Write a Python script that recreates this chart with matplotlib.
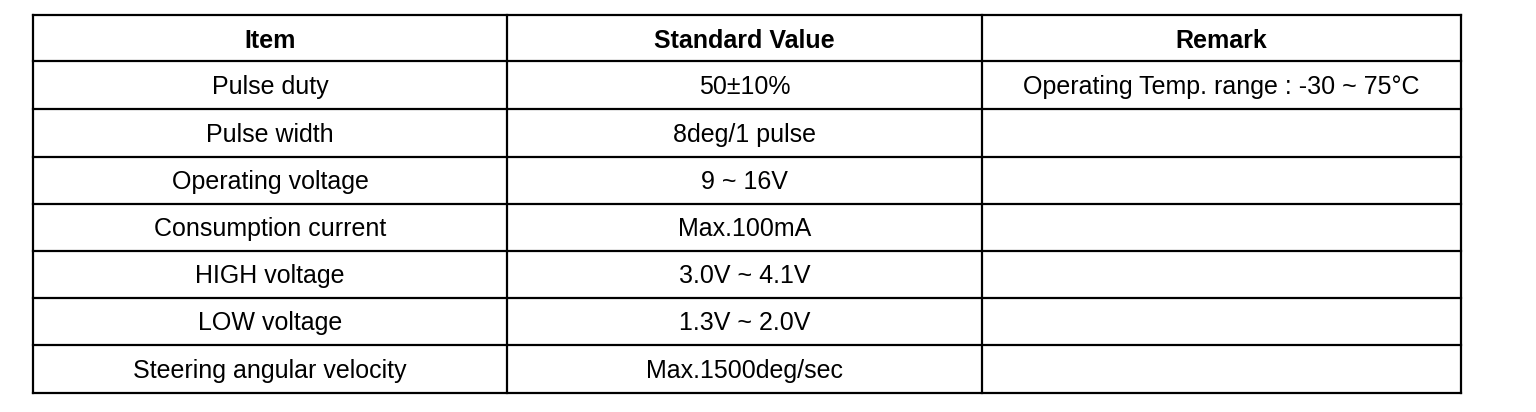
import matplotlib.pyplot as plt

# table content
headers = ['Item', 'Standard Value', 'Remark']
items = ['Pulse duty', 'Pulse width', 'Operating voltage', 'Consumption current',
         'HIGH voltage', 'LOW voltage', 'Steering angular velocity']
std_values = ['50±10%', '8deg/1 pulse', '9 ~ 16V', 'Max.100mA',
              '3.0V ~ 4.1V', '1.3V ~ 2.0V', 'Max.1500deg/sec']
remarks = ['Operating Temp. range : -30 ~ 75°C', '', '', '', '', '', '']

# layout (pixels)
W, H = 1536, 412
col_edges = [33, 507, 982, 1461]
row_edges = [15, 61, 109, 157, 204, 251, 298, 345, 393]

plt.rcParams['font.family'] = ['Liberation Sans', 'DejaVu Sans']

fig = plt.figure(figsize=(W / 100, H / 100), dpi=100)
ax = fig.add_axes([0, 0, 1, 1])
ax.set_xlim(0, W)
ax.set_ylim(H, 0)
ax.axis('off')

lw = 1.6
for y in row_edges:
    ax.plot([col_edges[0], col_edges[-1]], [y, y], color='black', lw=lw,
            solid_capstyle='projecting')
for x in col_edges:
    ax.plot([x, x], [row_edges[0], row_edges[-1]], color='black', lw=lw,
            solid_capstyle='projecting')

fs = 18
cap_half = 0.716 * fs * 100 / 72 / 2  # half cap height in px, for centring caps


def put(cx, cy, s, **kw):
    ax.text(cx, cy + cap_half, s, ha='center', va='baseline', fontsize=fs, **kw)


for j, h in enumerate(headers):
    cx = (col_edges[j] + col_edges[j + 1]) / 2
    cy = (row_edges[0] + row_edges[1]) / 2
    put(cx, cy + 1, h, fontweight='bold')

columns = [items, std_values, remarks]
for j, col in enumerate(columns):
    cx = (col_edges[j] + col_edges[j + 1]) / 2
    for i, val in enumerate(col):
        cy = (row_edges[i + 1] + row_edges[i + 2]) / 2
        put(cx, cy, val)

fig.savefig('out.png', dpi=100, facecolor='white')
